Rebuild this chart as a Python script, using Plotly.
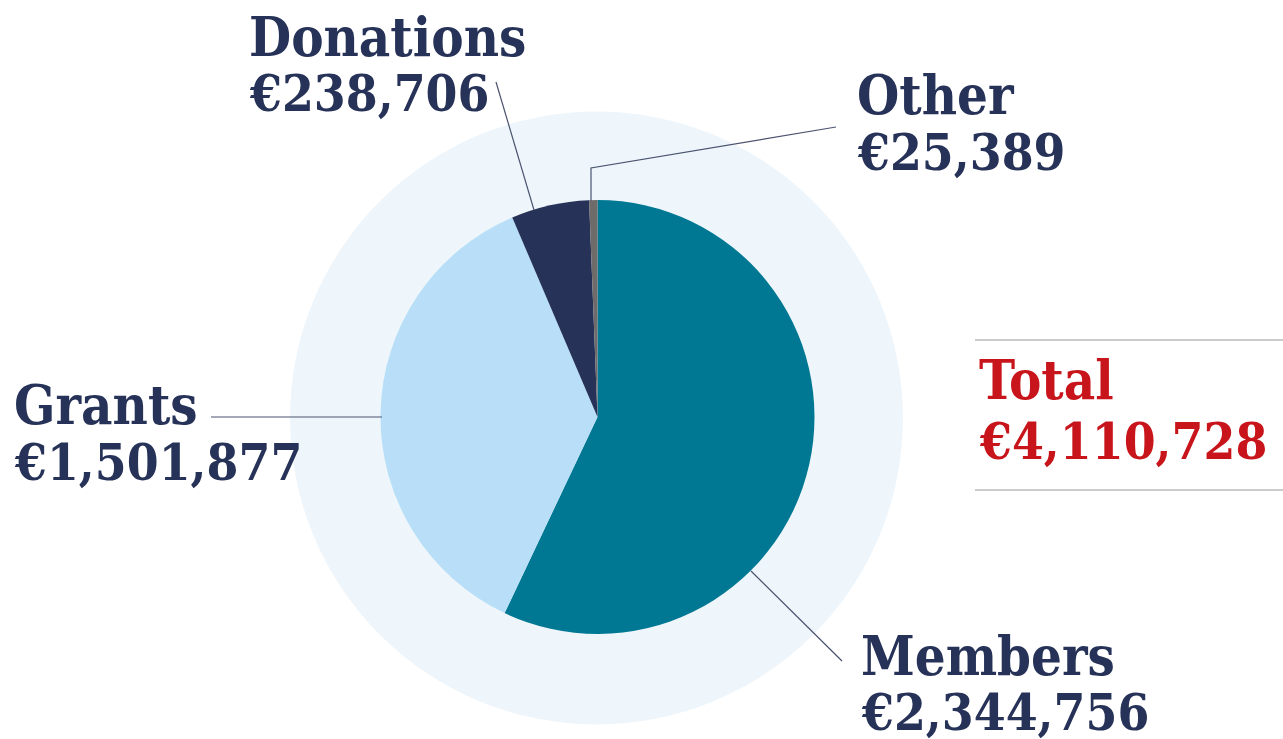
"""Income breakdown: pie with light halo, leader lines and a total box."""

import plotly.graph_objects as go

categories = ["Members", "Grants", "Donations", "Other"]
amounts = [2344756, 1501877, 238706, 25389]
slice_colors = ["#017893", "#b8dff7", "#263257", "#6f6b6b"]

W, H = 1283, 739
NAVY = "#263257"
RED = "#c8151b"
FONT = "DejaVu Serif Condensed"
NAME_SIZE = 54
NUM_SIZE = 51

# label placement: left x, centre of first line, centre of second line
label_pos = {
    "Donations": (248, 37, 93),
    "Other": (856, 95, 152),
    "Grants": (13, 405, 462),
    "Members": (860, 656, 712),
}
# leader line paths (pixel coords)
leaders = {
    "Donations": [(496, 82), (534, 210)],
    "Other": [(836, 127), (591, 168), (591, 201)],
    "Grants": [(211, 417), (382, 417)],
    "Members": [(751, 571), (842, 661)],
}


def dom(cx, cy, r):
    return dict(
        x=[(cx - r) / W, (cx + r) / W],
        y=[(H - cy - r) / H, (H - cy + r) / H],
    )


fig = go.Figure()
# halo behind the pie
fig.add_trace(
    go.Pie(
        values=[1],
        domain=dom(596.5, 418, 306.5),
        marker=dict(colors=["#eef6fc"], line=dict(width=0)),
        textinfo="none",
        hoverinfo="skip",
        showlegend=False,
        sort=False,
    )
)
fig.add_trace(
    go.Pie(
        labels=categories,
        values=amounts,
        domain=dom(597.5, 417, 217),
        marker=dict(colors=slice_colors, line=dict(width=0)),
        sort=False,
        direction="clockwise",
        rotation=0,
        textinfo="none",
        showlegend=False,
    )
)

shapes = []
for name, pts in leaders.items():
    path = "M " + " L ".join(f"{x},{y}" for x, y in pts)
    shapes.append(dict(type="path", path=path, xref="x", yref="y",
                       line=dict(color="#4b5370", width=1.2)))
for y in (340, 490):
    shapes.append(dict(type="line", x0=975, x1=W, y0=y, y1=y, xref="x", yref="y",
                       line=dict(color="#9a9797", width=1.2)))


def label(txt, x, y, size, color):
    return dict(
        text=f"<b>{txt}</b>", x=x, y=y, xref="x", yref="y",
        xanchor="left", yanchor="middle", showarrow=False, borderpad=0,
        font=dict(family=FONT, size=size, color=color),
    )


annotations = []
for name, amt in zip(categories, amounts):
    x, y1, y2 = label_pos[name]
    annotations.append(label(name, x, y1, NAME_SIZE, NAVY))
    annotations.append(label(f"€{amt:,}", x, y2, NUM_SIZE, NAVY))
total = sum(amounts)
annotations.append(label("Total", 978, 380, NAME_SIZE, RED))
annotations.append(label(f"€{total:,}", 978, 441, NUM_SIZE, RED))

fig.update_layout(
    width=W,
    height=H,
    margin=dict(l=0, r=0, t=0, b=0),
    paper_bgcolor="white",
    plot_bgcolor="rgba(0,0,0,0)",
    xaxis=dict(range=[0, W], visible=False, fixedrange=True),
    yaxis=dict(range=[H, 0], visible=False, fixedrange=True),
    shapes=shapes,
    annotations=annotations,
)

# drop the browser's default body margin so the figure sits at the top-left
fig.write_html(
    "out.html",
    config={"displayModeBar": False},
    post_script="document.body.style.margin='0';",
)
